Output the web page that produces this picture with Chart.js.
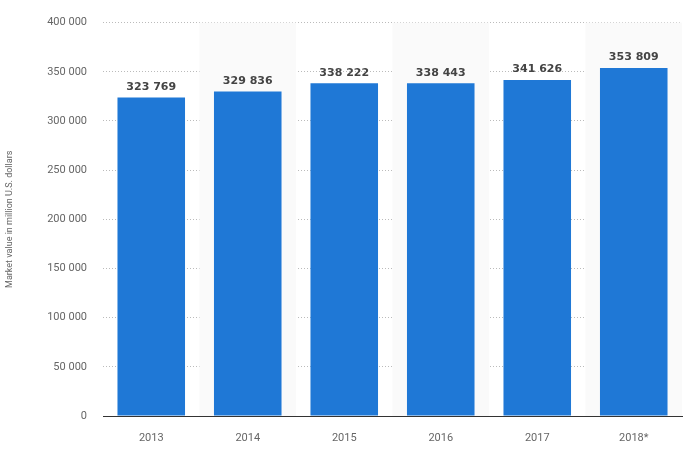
<!DOCTYPE html>
<html><head><meta charset="utf-8">
<script src="https://cdn.jsdelivr.net/npm/chart.js@4"></script>
<style>body{margin:0;background:#fff}#wrap{width:698px;height:455px}</style>
</head><body><div id="wrap"><canvas id="c"></canvas></div>
<script>
var years = ['2013', '2014', '2015', '2016', '2017', '2018*'];
var values = [323769, 329836, 338222, 338443, 341626, 353809];
var yTicks = [0, 50000, 100000, 150000, 200000, 250000, 300000, 350000, 400000];

function fmt(v) { return String(v).replace(/\B(?=(\d{3})+(?!\d))/g, ' '); }

var extras = {
    id: 'extras',
    beforeDatasetsDraw: function (chart) {
        var c = chart.ctx, x = chart.scales.x, a = chart.chartArea;
        var w = x.getPixelForValue(1) - x.getPixelForValue(0);
        c.save();
        c.fillStyle = '#fafafa';
        for (var i = 1; i < years.length; i += 2) {
            var px = x.getPixelForValue(i);
            c.fillRect(px - w / 2, a.top, w, a.bottom - a.top);
        }
        c.restore();
    },
    afterDatasetsDraw: function (chart) {
        var c = chart.ctx, meta = chart.getDatasetMeta(0);
        c.save();
        c.font = 'bold 11px "DejaVu Sans", sans-serif';
        c.fillStyle = '#444';
        c.textAlign = 'center';
        c.textBaseline = 'bottom';
        meta.data.forEach(function (b, i) { c.fillText(fmt(values[i]), b.x, b.y - 5); });
        c.restore();
    }
};

new Chart(document.getElementById('c').getContext('2d'), {
    type: 'bar',
    data: {
        labels: years,
        datasets: [{ data: values, backgroundColor: '#1f78d6', barPercentage: 0.7, categoryPercentage: 1 }]
    },
    plugins: [extras],
    options: {
        responsive: true, maintainAspectRatio: false, animation: false,
        layout: { padding: { top: 18, right: 16, bottom: 0, left: 0 } },
        plugins: { legend: { display: false }, tooltip: { enabled: false } },
        scales: {
            x: {
                grid: { display: false },
                border: { color: '#333' },
                ticks: { color: '#666', font: { size: 11, family: 'Roboto' }, padding: 8 },
                afterFit: function (s) { s.height = 39; }
            },
            y: {
                min: 0, max: 400000,
                afterBuildTicks: function (s) { s.ticks = yTicks.map(function (v) { return { value: v }; }); },
                grid: { color: '#bbb', tickLength: 0, drawTicks: false },
                border: { display: false, dash: [1, 2] },
                ticks: { color: '#666', font: { size: 11, family: 'Roboto' }, padding: 16, callback: function (v) { return fmt(v); } },
                title: { display: true, text: 'Market value in million U.S. dollars', color: '#666', font: { size: 9, family: 'Roboto' } },
                afterFit: function (s) { s.width = 103; }
            }
        }
    }
});
</script></body></html>
